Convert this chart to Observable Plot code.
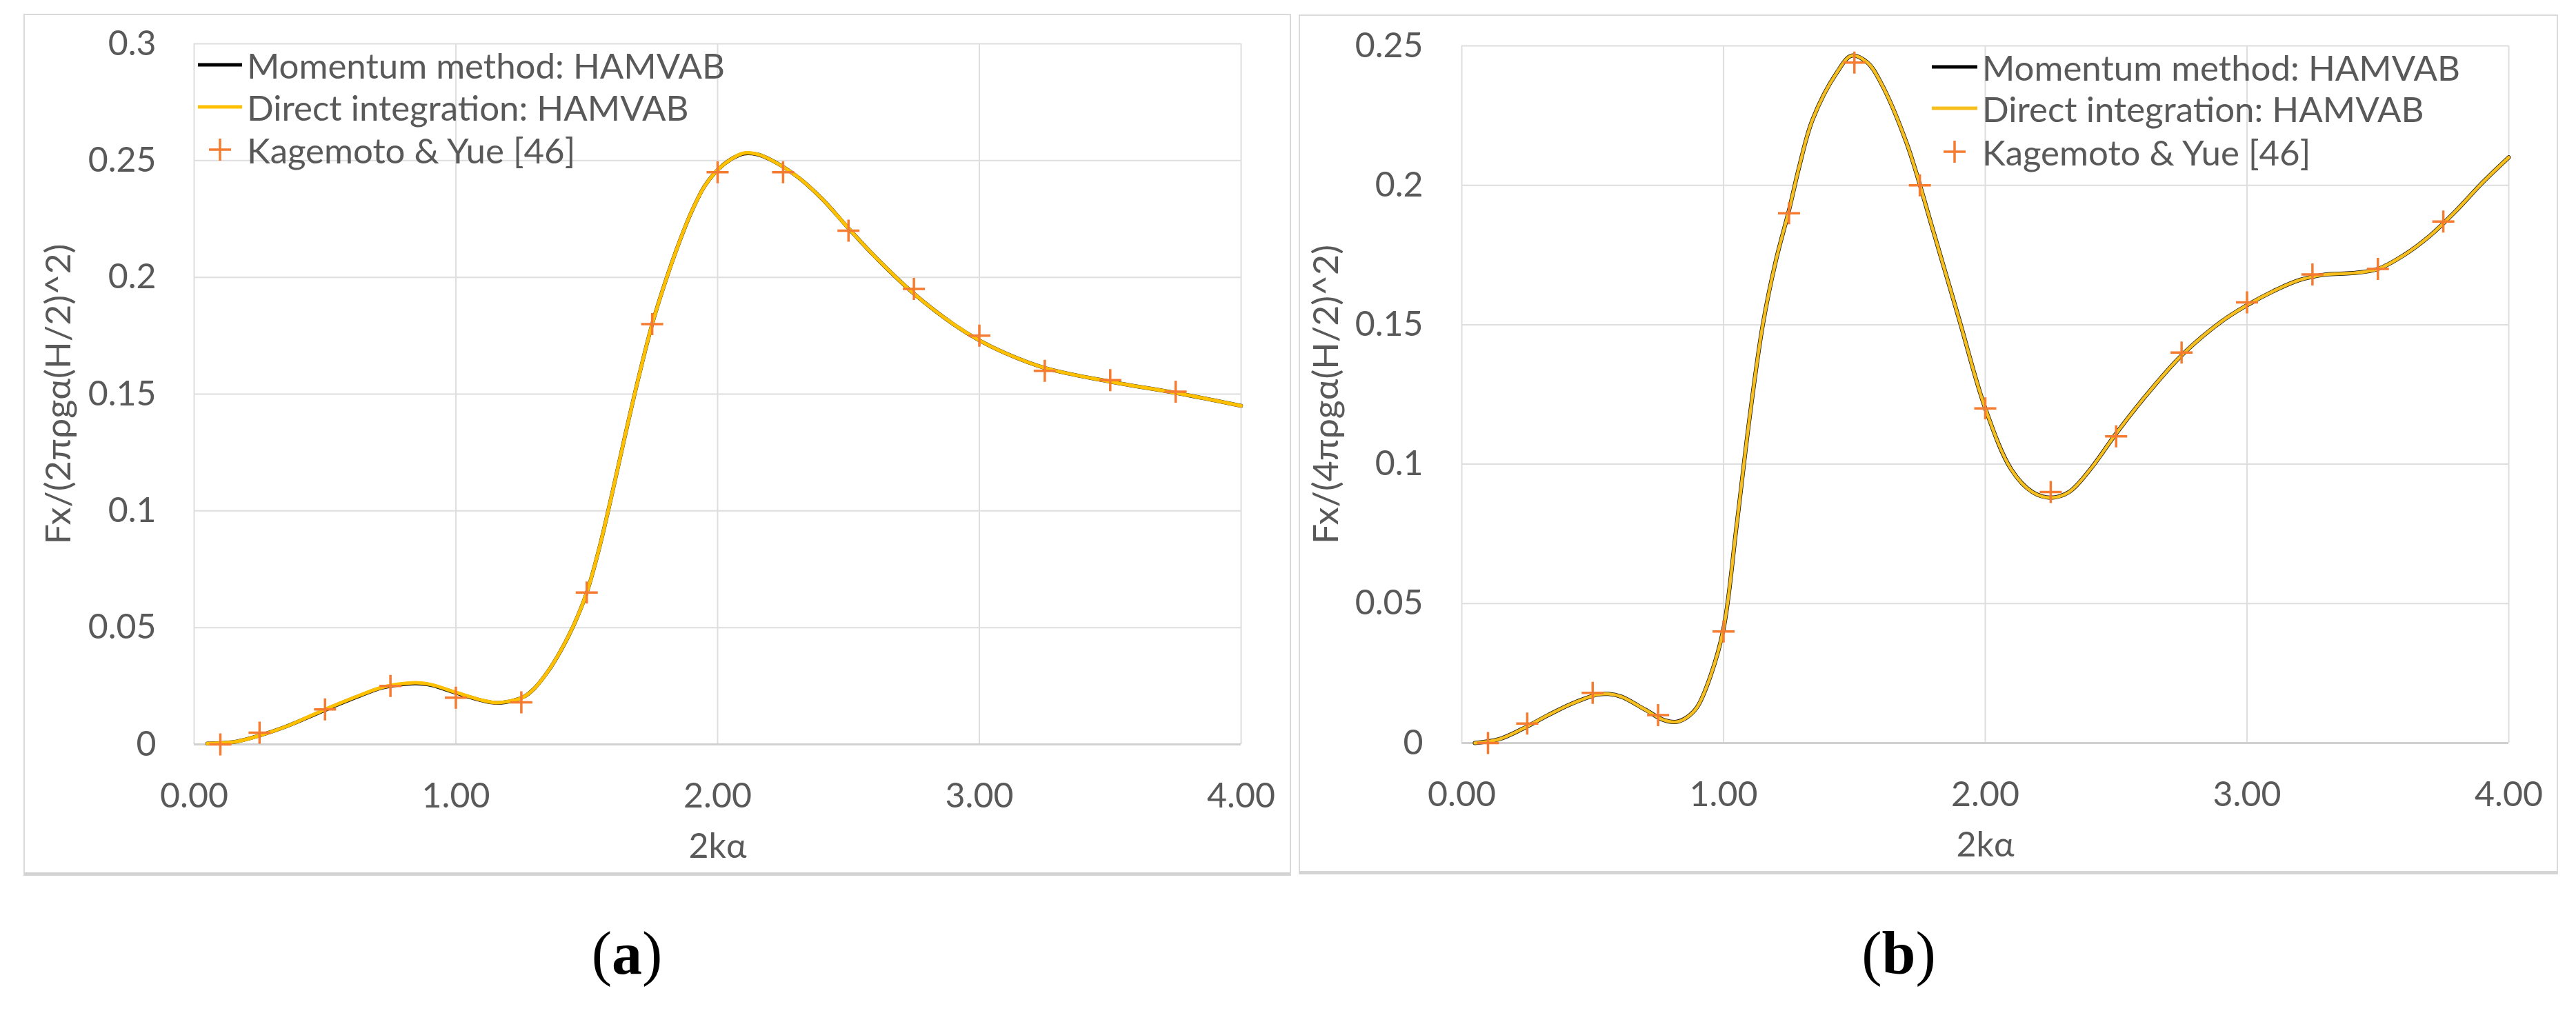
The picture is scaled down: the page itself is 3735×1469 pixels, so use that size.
<!DOCTYPE html>
<html><head><meta charset="utf-8">
<script src="https://cdn.jsdelivr.net/npm/d3@7"></script>
<script src="https://cdn.jsdelivr.net/npm/@observablehq/plot@0.6"></script>
<style>
html,body{margin:0;padding:0;background:#fff;}
body{width:3735px;height:1469px;position:relative;overflow:hidden;font-family:Lato,sans-serif;}
.holder{position:absolute;}
.holder svg{display:block;overflow:visible;}
.frame{position:absolute;box-sizing:border-box;border:2px solid #dadada;border-bottom:5px solid #d4d4d4;pointer-events:none;}
.leg{position:absolute;display:flex;align-items:center;font-size:51px;color:#595959;white-space:nowrap;height:60px;}
.leg svg{display:block;}
.cap{position:absolute;font-family:"Liberation Serif","Times New Roman",serif;font-size:88px;color:#000;transform:translate(-50%,-50%);white-space:nowrap;}
</style></head><body>
<script>
// ---------- data ----------
const xTicks = [0, 1, 2, 3, 4];
const yTicksA = [0, 0.05, 0.1, 0.15, 0.2, 0.25, 0.3];
const yTicksB = [0, 0.05, 0.1, 0.15, 0.2, 0.25];
const seriesNames = ["Momentum method: HAMVAB", "Direct integration: HAMVAB", "Kagemoto & Yue [46]"];
const xTitle = "2kα";
const yTitleA = "Fx/(2πρgα(H/2)^2)";
const yTitleB = "Fx/(4πρgα(H/2)^2)";
const panelLabels = ["a", "b"];

// Kagemoto & Yue reference points
const kageX = [0.1, 0.25, 0.5, 0.75, 1.0, 1.25, 1.5, 1.75, 2.0, 2.25, 2.5, 2.75, 3.0, 3.25, 3.5, 3.75];
const kageA = [0.000, 0.005, 0.015, 0.025, 0.020, 0.018, 0.065, 0.180, 0.245, 0.245, 0.220, 0.195, 0.175, 0.160, 0.156, 0.151];
const kageB = [0.000, 0.007, 0.018, 0.010, 0.040, 0.190, 0.244, 0.200, 0.120, 0.090, 0.110, 0.140, 0.158, 0.168, 0.170, 0.187];

// panel (a) curves
const curveAx = [0.05, 0.16, 0.25, 0.35, 0.44, 0.53, 0.63, 0.72, 0.82, 0.87, 0.91, 1.0, 1.1, 1.15, 1.19, 1.26, 1.3, 1.35, 1.4, 1.45, 1.5, 1.55, 1.6, 1.65, 1.7, 1.75, 1.8, 1.85, 1.9, 1.95, 2.0, 2.05, 2.1, 2.15, 2.2, 2.3, 2.4, 2.5, 2.6, 2.75, 2.9, 3.0, 3.1, 3.25, 3.5, 3.75, 4.0];
const momentumA = [0.0004, 0.0012, 0.0038, 0.0076, 0.0118, 0.0162, 0.0207, 0.0243, 0.0260, 0.0260, 0.0253, 0.0221, 0.0188, 0.0178, 0.0181, 0.0204, 0.024, 0.031, 0.040, 0.051, 0.065, 0.085, 0.109, 0.134, 0.158, 0.180, 0.198, 0.214, 0.228, 0.239, 0.246, 0.2505, 0.2530, 0.2527, 0.2505, 0.2435, 0.2335, 0.221, 0.209, 0.193, 0.180, 0.173, 0.1675, 0.1612, 0.1553, 0.1505, 0.145];
const directA = [0.0004, 0.0012, 0.0038, 0.0076, 0.0120, 0.0164, 0.0209, 0.0245, 0.0263, 0.0263, 0.0255, 0.0223, 0.0189, 0.0179, 0.0182, 0.0204, 0.024, 0.031, 0.040, 0.051, 0.065, 0.085, 0.109, 0.134, 0.158, 0.180, 0.198, 0.214, 0.228, 0.239, 0.246, 0.2505, 0.2532, 0.2528, 0.2505, 0.2435, 0.2335, 0.221, 0.209, 0.193, 0.180, 0.173, 0.1675, 0.1612, 0.1553, 0.1505, 0.145];

// panel (b) curves
const curveBx = [0.05, 0.14, 0.23, 0.33, 0.42, 0.52, 0.56, 0.61, 0.7, 0.77, 0.82, 0.86, 0.9, 0.95, 1.0, 1.05, 1.1, 1.15, 1.2, 1.25, 1.29, 1.34, 1.43, 1.49, 1.55, 1.6, 1.7, 1.8, 1.9, 2.0, 2.1, 2.18, 2.25, 2.32, 2.4, 2.5, 2.6, 2.75, 2.9, 3.0, 3.1, 3.2, 3.3, 3.4, 3.5, 3.6, 3.7, 3.8, 3.9, 4.0];
const momentumB = [0.0, 0.0013, 0.005, 0.010, 0.0141, 0.0174, 0.0176, 0.0166, 0.012, 0.0083, 0.0076, 0.0092, 0.013, 0.024, 0.041, 0.078, 0.117, 0.150, 0.173, 0.191, 0.207, 0.2235, 0.240, 0.2465, 0.244, 0.237, 0.215, 0.184, 0.152, 0.120, 0.098, 0.090, 0.088, 0.090, 0.098, 0.111, 0.123, 0.139, 0.151, 0.157, 0.162, 0.166, 0.168, 0.1685, 0.170, 0.175, 0.182, 0.191, 0.201, 0.210];
const directB = [0.0, 0.0013, 0.005, 0.010, 0.0141, 0.0174, 0.0176, 0.0166, 0.012, 0.0083, 0.0076, 0.0092, 0.013, 0.024, 0.041, 0.078, 0.117, 0.150, 0.173, 0.191, 0.207, 0.2235, 0.240, 0.2465, 0.244, 0.237, 0.215, 0.184, 0.152, 0.120, 0.098, 0.090, 0.088, 0.090, 0.098, 0.111, 0.123, 0.139, 0.151, 0.157, 0.162, 0.166, 0.168, 0.1685, 0.170, 0.175, 0.182, 0.191, 0.201, 0.210];

// ---------- styling ----------
const TEXT = "#595959";
const ORANGE = "#F47B30";
const GOLD = "#FFC000";
const plusSymbol = {draw(ctx, size) {
  const r = Math.sqrt(size / Math.PI);
  ctx.moveTo(-r, 0); ctx.lineTo(r, 0);
  ctx.moveTo(0, -r); ctx.lineTo(0, r);
}};

function makeChart(c) {
  const mom = c.curveX.map((x, i) => ({x, y: c.mom[i]}));
  const dir = c.curveX.map((x, i) => ({x, y: c.dir[i]}));
  const pts = kageX.map((x, i) => ({x, y: c.kage[i]}));
  const svg = Plot.plot({
    width: c.w, height: c.h,
    marginLeft: c.ml, marginRight: c.mr, marginTop: c.mt, marginBottom: c.mb,
    style: {fontFamily: "Lato, sans-serif", fontSize: "50px", color: TEXT, background: "transparent", overflow: "visible"},
    x: {domain: [0, 4], ticks: xTicks, tickSize: 0, tickPadding: 56, tickFormat: d => d.toFixed(2), label: null},
    y: {domain: c.yDomain, ticks: c.yTicks, tickSize: 0, tickPadding: c.ypad, tickFormat: d => String(d), label: null},
    marks: [
      Plot.ruleX(xTicks, {stroke: "#dedede", strokeWidth: 2}),
      Plot.ruleY(c.yTicks.filter(d => d > 0), {stroke: "#dedede", strokeWidth: 2}),
      Plot.ruleY([0], {stroke: "#d0d0d0", strokeWidth: 3}),
      Plot.line(mom, {x: "x", y: "y", stroke: "#111", strokeWidth: c.momW, curve: "catmull-rom"}),
      Plot.line(dir, {x: "x", y: "y", stroke: c.gold, strokeWidth: c.dirW, curve: "catmull-rom"}),
      Plot.dot(pts, {x: "x", y: "y", r: 16, symbol: plusSymbol, stroke: ORANGE, fill: "none", strokeWidth: 3.5}),
      Plot.text([xTitle], {frameAnchor: "bottom", dy: 148, lineAnchor: "middle", text: d => d, fontSize: 50, fill: TEXT}),
      Plot.text([c.yTitle], {frameAnchor: "left", dx: -196, rotate: -90, lineAnchor: "middle", textAnchor: "middle", text: d => d, fontSize: 50, fill: TEXT})
    ]
  });
  // fit the rotated axis title to the length measured on the reference
  svg.querySelectorAll("text").forEach(t => {
    if (t.textContent === c.yTitle) {
      t.setAttribute("textLength", c.titleLen);
      t.setAttribute("lengthAdjust", "spacingAndGlyphs");
    }
  });
  return svg;
}

function place(el, left, top) {
  const d = document.createElement("div");
  d.className = "holder";
  d.style.left = left + "px"; d.style.top = top + "px";
  d.appendChild(el);
  document.body.appendChild(d);
}
function frame(left, top, w, h) {
  const d = document.createElement("div");
  d.className = "frame";
  Object.assign(d.style, {left: left + "px", top: top + "px", width: w + "px", height: h + "px"});
  document.body.appendChild(d);
}
function legend(lineL, textL, rows, gold) {
  const kinds = ["black", "gold", "plus"];
  rows.forEach((ry, i) => {
    const d = document.createElement("div");
    d.className = "leg";
    d.style.left = lineL + "px"; d.style.top = (ry - 30) + "px";
    const w = textL - lineL;
    const ns = "http://www.w3.org/2000/svg";
    const s = document.createElementNS(ns, "svg");
    s.setAttribute("width", w); s.setAttribute("height", 60);
    if (kinds[i] === "plus") {
      const cx = (w - 7) / 2;
      const p = document.createElementNS(ns, "path");
      p.setAttribute("d", `M${cx - 16},30H${cx + 16}M${cx},14V46`);
      p.setAttribute("stroke", ORANGE); p.setAttribute("stroke-width", 3.5); p.setAttribute("fill", "none");
      s.appendChild(p);
    } else {
      const l = document.createElementNS(ns, "line");
      l.setAttribute("x1", 0); l.setAttribute("x2", w - 7); l.setAttribute("y1", 30); l.setAttribute("y2", 30);
      l.setAttribute("stroke", kinds[i] === "black" ? "#000" : gold); l.setAttribute("stroke-width", 5);
      s.appendChild(l);
    }
    d.appendChild(s);
    const t = document.createElement("span");
    t.textContent = seriesNames[i];
    d.appendChild(t);
    document.body.appendChild(d);
  });
}
function caption(letter, x, y) {
  const d = document.createElement("div");
  d.className = "cap";
  d.style.left = x + "px"; d.style.top = y + "px";
  d.innerHTML = "(<b>" + letter + "</b>)";
  document.body.appendChild(d);
}

// panel (a)
frame(34, 20, 1838, 1250);
place(makeChart({w: 1836, h: 1247, ml: 247, mr: 71, mt: 43, mb: 188, yDomain: [0, 0.3], yTicks: yTicksA, ypad: 55,
  yTitle: yTitleA, titleLen: 436, curveX: curveAx, mom: momentumA, dir: directA, kage: kageA, momW: 5.5, dirW: 5, gold: GOLD}), 34, 20);
legend(287, 358, [94, 155, 217], GOLD);
caption(panelLabels[0], 909, 1382);

// panel (b)
frame(1883, 21, 1826, 1247);
place(makeChart({w: 1825, h: 1244, ml: 236, mr: 71, mt: 45, mb: 188, yDomain: [0, 0.25], yTicks: yTicksB, ypad: 56,
  yTitle: yTitleB, titleLen: 434, curveX: curveBx, mom: momentumB, dir: directB, kage: kageB, momW: 6, dirW: 4.5, gold: "#F7BF1E"}), 1883, 21);
legend(2801, 2874, [97, 157, 220], "#F7BF1E");
caption(panelLabels[1], 2753, 1382);
</script>
</body></html>
